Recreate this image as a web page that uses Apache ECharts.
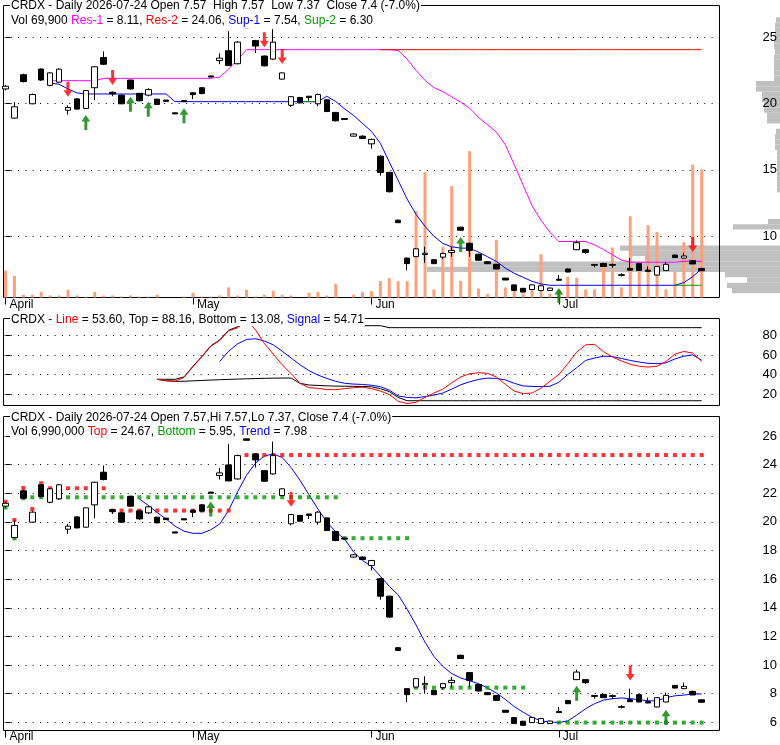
<!DOCTYPE html>
<html><head><meta charset="utf-8">
<script src="https://cdn.jsdelivr.net/npm/echarts@6.0.0/dist/echarts.min.js"></script>
<style>html,body{margin:0;padding:0;background:#fff}#c{width:780px;height:745px}</style>
</head><body><div id="c"></div>
<script>
// ---------------- data ----------------
const monthTicks = [0, 21, 41, 62];
const monthNames = ['April', 'May', 'Jun', 'Jul'];
const priceTicks1 = [10, 15, 20, 25];
const oscTicks = [20, 40, 60, 80];
const priceTicks3 = [6, 8, 10, 12, 14, 16, 18, 20, 22, 24, 26];

const opens = [21.1,18.9,22.17,19.98,22.6,21.37,21.61,19.49,20.35,19.63,
 21.19,23.47,20.85,20.63,21.77,20.77,20.63,20.33,20.26,19.3,
 20.22,20.81,21.19,22.08,23.24,23.98,23.0,25.8,24.75,23.58,
 23.35,21.84,19.87,20.45,20.55,19.98,20.28,19.33,18.87,17.54,
 17.54,16.96,16.03,14.81,11.21,8.35,8.46,8.62,8.23,8.42,
 8.77,10.68,9.47,8.64,8.07,7.88,6.84,6.33,6.07,5.98,
 5.91,5.91,6.76,7.53,8.98,8.98,7.87,7.95,7.86,7.09,
 7.58,7.93,7.44,7.07,7.42,8.58,8.35,8.16,7.57];
const closes = [21.3,19.75,21.65,20.68,21.77,22.31,22.59,19.70,19.58,20.98,
 22.77,22.96,20.73,19.98,21.1,20.21,21.05,19.93,20.16,19.22,
 20.14,20.67,20.75,22.0,23.42,22.86,24.63,25.7,24.33,22.84,
 24.63,22.31,20.52,20.05,20.45,20.68,19.4,18.7,18.8,17.7,
 17.37,17.3,14.81,13.35,11.02,7.93,9.05,8.72,7.93,8.70,
 8.93,10.45,8.93,8.19,7.93,7.53,6.70,5.91,5.79,6.33,
 6.26,6.09,6.68,7.30,9.51,8.77,7.81,7.72,7.81,7.05,
 7.44,7.42,7.35,7.72,7.88,8.39,8.51,7.91,7.40];
const lows = [21.0,18.85,21.6,19.95,21.7,21.3,21.55,19.17,19.55,19.6,
 20.26,22.9,20.55,19.95,21.05,20.15,20.55,19.9,20.16,19.22,
 20.14,20.33,20.7,22.0,22.96,22.85,22.95,25.7,23.8,22.8,
 23.3,21.8,19.75,20.0,20.2,19.8,19.35,18.65,18.8,17.5,
 17.35,16.6,14.56,13.3,11.0,7.42,8.44,8.0,7.9,8.28,
 8.46,10.42,8.46,8.15,7.9,7.5,6.68,5.88,5.76,5.95,
 5.88,5.89,6.66,7.28,8.95,8.68,7.65,7.7,7.62,6.97,
 7.42,7.4,7.33,7.05,7.4,8.37,8.33,7.9,7.37];
const highs = [21.4,20.1,22.25,20.75,22.65,22.35,22.65,19.86,20.4,21.0,
 22.8,23.93,20.9,20.7,21.8,20.8,21.15,20.35,20.26,19.3,
 20.22,20.85,21.25,22.1,23.77,25.45,24.7,25.8,24.8,23.62,
 25.61,22.35,20.55,20.5,20.55,20.75,20.3,19.35,18.87,17.75,
 17.6,17.35,16.1,14.85,11.25,8.4,9.1,9.21,8.28,8.75,
 9.17,10.72,9.5,8.68,8.12,7.9,6.86,6.36,6.1,6.36,
 6.3,6.12,7.07,7.55,9.68,9.0,7.9,7.98,7.95,7.2,
 8.35,7.95,7.72,7.75,8.07,8.6,8.77,8.22,7.57];
// volume, thousands of shares
const volumes = [14.6,11.8,1.5,1.5,3.1,1.1,1.1,4.2,1.1,0.4,
 3.1,1.1,1.1,0.5,1.1,0.5,0.5,1.5,0,0,
 0.5,2.6,0.5,0.5,1.1,5.5,1.1,4.2,0.5,1.5,
 3.7,1.5,1.1,0,2.6,3.1,1.1,7.5,0,1.5,
 3.1,3.5,9.0,10.6,8.9,8.9,47.3,68.4,4.4,27.7,
 60.8,9.1,79.9,4.9,1.8,31.3,5.5,4.2,2.2,4.4,
 23.6,2.2,4.2,11.3,10.8,4.4,4.4,17.6,27.3,5.5,
 44.4,14.0,39.5,35.7,4.4,14.0,30.2,72.5,69.9];

const res1 = [null,null,null,null,null,
 21.72,21.72,21.72,21.72,21.72,21.72,
 21.9,21.9,21.9,21.9,21.9,21.9,21.9,21.9,21.9,21.9,21.9,21.9,
 21.9,22.0,22.6,23.3,
 24.06,24.06,24.06,24.06,24.06,24.06,24.06,24.06,24.06,24.06,24.06,24.06,24.06,24.06,24.06,24.06,24.06,
 24.0,23.35,22.5,21.75,21.2,20.9,20.5,20.1,19.65,18.95,18.4,17.85,16.9,15.4,13.85,12.3,11.2,10.3,
 9.6,9.6,9.6,9.6,
 9.35,9.0,8.6,8.2,
 8.04,8.04,8.04,8.04,8.04,8.04,
 8.11,8.11,8.11];
const res2 = [null,null,null,null,null,null,null,null,null,null,
 null,null,null,null,null,null,null,null,null,null,
 null,null,null,null,null,null,null,null,null,null,
 null,null,null,null,null,null,null,null,null,null,
 null,null,
 24.06,24.06,24.06,24.06,24.06,24.06,24.06,24.06,24.06,24.06,
 24.06,24.06,24.06,24.06,24.06,24.06,24.06,24.06,24.06,24.06,
 24.06,24.06,24.06,24.06,24.06,24.06,24.06,24.06,24.06,24.06,
 24.06,24.06,24.06,24.06,24.06,24.06,24.06];
const sup1 = [null,null,null,null,null,
 21.55,21.45,21.1,20.8,
 20.72,20.72,20.72,20.72,20.72,20.72,20.72,20.72,20.72,20.72,
 20.14,20.14,20.14,20.14,20.14,20.14,20.14,20.14,20.14,20.14,20.14,20.14,20.14,20.14,20.14,20.14,20.14,
 20.55,20.15,19.6,19.1,18.5,17.9,17.0,15.6,14.2,12.8,11.65,10.75,10.0,9.45,9.2,9.1,9.1,8.8,8.45,8.1,7.6,7.2,6.9,6.6,6.4,
 6.3,6.3,6.3,6.3,6.3,6.3,6.3,6.3,6.3,6.3,6.3,6.3,6.3,6.3,6.3,
 6.5,6.95,7.54];
const sup2 = [null,null,null,null,null,null,null,null,null,null,
 null,null,null,null,null,null,null,null,null,null,
 null,null,null,null,null,null,null,null,null,null,
 null,null,null,
 20.14,20.14,20.14,
 null,null,null,null,null,null,null,null,null,null,
 null,null,null,null,null,null,null,null,null,null,
 null,null,null,null,null,null,null,null,null,null,
 null,null,null,null,null,null,null,null,null,
 6.3,6.3,6.3,6.3];

const oscLine = [null,null,null,null,null,null,null,null,null,null,null,null,null,null,null,null,null,
 35.1,34.0,33.2,37,48,58,69,75,85,88,
 96,86,72,61,50,41,31,26.5,25.8,24.5,
 24.5,25.5,26.5,27,25.5,23,19.5,12.5,10.2,11.5,
 16.5,21,25,31.5,37.5,40.8,41.9,41.2,37.5,30,
 23,20.4,21,26,33,40,51,63,70.5,71,
 63.5,58,54,50.5,48.5,47.7,48.5,53.5,61,63.7,
 62,53.6];
const oscSignal = [null,null,null,null,null,null,null,null,null,null,null,null,
 null,null,null,null,null,null,null,null,null,null,null,null,
 53.5,64,71.5,76,76.8,74.5,70.5,64,57,50,
 44,39.5,36,33,31,30.2,29.8,29,27.5,24,
 18,16.5,16,17.3,18.8,21,25,29.5,32.5,35,
 36.3,36,34.5,31,28.3,27.8,27.6,28,32,40,
 47,54.5,57,58.8,58.5,56.5,54.5,52.8,51.5,51.1,
 52,56,58.8,60.2,54.7];
const oscTop = [null,null,null,null,null,null,null,null,null,null,null,null,null,null,null,null,null,
 35.1,35.1,35.1,37.5,48.5,58.5,69.5,75.5,85.5,89,
 93,93,93,93,93,93,93,93,93,93,93,93,93,
 90.2,90.2,90.2,
 88.16,88.16,88.16,88.16,88.16,88.16,88.16,88.16,88.16,88.16,88.16,88.16,
 88.16,88.16,88.16,88.16,88.16,88.16,88.16,88.16,88.16,88.16,88.16,88.16,
 88.16,88.16,88.16,88.16,88.16,88.16,88.16,88.16,88.16,88.16,88.16,88.16];
const oscBottom = [null,null,null,null,null,null,null,null,null,null,null,null,null,null,null,null,null,
 35.1,33.5,33.0,33.1,33.5,33.9,34.3,34.7,35.0,35.3,35.6,35.9,36.1,36.3,36.4,36.4,
 31,29.2,28.8,28.4,28.1,28,27.9,27.7,27.4,25.5,22.5,16.5,
 13.08,13.08,13.08,13.08,13.08,13.08,13.08,13.08,13.08,13.08,13.08,13.08,
 13.08,13.08,13.08,13.08,13.08,13.08,13.08,13.08,13.08,13.08,13.08,13.08,
 13.08,13.08,13.08,13.08,13.08,13.08,13.08,13.08,13.08,13.08];

const trend = [null,null,null,null,null,null,null,null,null,null,null,null,null,null,null,
 21.6,21.15,20.65,20.2,19.7,19.35,19.2,19.2,19.45,19.85,
 20.8,22.1,23.25,24.1,24.6,24.75,24.5,23.8,22.9,21.9,
 20.9,20.0,19.3,18.8,17.9,17.3,16.9,16.2,15.5,14.9,
 13.9,12.8,11.6,10.6,9.9,9.4,9.1,8.9,8.7,8.4,
 8.05,7.6,7.1,6.7,6.35,6.1,6.02,5.98,6.1,6.5,
 6.95,7.3,7.55,7.65,7.7,7.65,7.58,7.5,7.5,7.72,
 7.85,7.9,7.98,7.98];
const topDots = [21.4,20.13,22.37,20.9,22.7,
 22.35,22.35,22.35,22.35,22.35,22.35,22.35,
 20.79,20.79,20.79,20.79,20.79,20.79,20.79,20.79,20.79,20.79,20.79,20.79,20.79,20.79,
 null,
 24.67,24.67,24.67,24.67,24.67,24.67,24.67,24.67,24.67,24.67,24.67,24.67,24.67,
 24.67,24.67,24.67,24.67,24.67,24.67,24.67,24.67,24.67,24.67,24.67,24.67,24.67,
 24.67,24.67,24.67,24.67,24.67,24.67,24.67,24.67,24.67,24.67,24.67,24.67,24.67,
 24.67,24.67,24.67,24.67,24.67,24.67,24.67,24.67,24.67,24.67,24.67,24.67,24.67];
const bottomDots = [21.0,18.85,21.65,
 21.72,21.72,21.72,21.72,21.72,21.72,21.72,21.72,21.72,21.72,21.72,21.72,
 21.72,21.72,21.72,21.72,21.72,21.72,21.72,21.72,21.72,21.72,21.72,21.72,
 21.72,21.72,21.72,21.72,21.72,21.72,21.72,21.72,21.72,21.72,21.72,
 18.86,18.86,18.86,18.86,18.86,18.86,18.86,18.86,
 8.42,8.42,8.42,8.42,8.42,8.42,8.42,8.42,8.42,8.42,8.42,8.42,8.42,
 null,null,null,
 5.98,5.98,5.98,5.98,5.98,5.98,5.98,5.98,5.98,5.98,5.98,5.98,5.98,5.98,5.98,5.98,5.98];

const arrowsUp1 = [[9, 19.14], [14, 20.52], [16, 20.14], [20, 19.64], [51, 9.94], [62, 6.1]];
const arrowsDown1 = [[7, 20.52], [12, 21.4], [29, 24.24], [31, 22.98], [77, 8.81]];
const arrowsUp3 = [[23, 21.42], [64, 8.55], [74, 6.88]];
const arrowsDown3 = [[32, 21.05], [70, 8.92]];

// volume-by-price profile (bins of 0.4 starting at 5.7)
const profileStart = 5.7, profileStep = 0.4;
const profileVolume = [48,53,33,55,353,310,135,150,160,0,
 0,0,47,12,0,0,0,0,0,3,
 3,3,3,3,3,3,3,5,5,5,
 4,0,13,13,16,16,18,18,24,24,
 6,6,6,6,6,5,6,6,5,5,
 5,4];

// ---------------- chart ----------------
const FONT = 'Liberation Sans, Arial, Helvetica, sans-serif';
const N = opens.length;
const X_MIN = -0.224, X_MAX = 80.0;
const pairs = arr => arr.map((v, i) => [i, v]);
const pts = arr => arr.map((v, i) => [i, v]).filter(p => p[1] != null);
const ohlc = opens.map((o, i) => [i, o, closes[i], lows[i], highs[i]]);
const profileData = profileVolume.map((v, k) => [v, profileStart + k * profileStep, profileStart + (k + 1) * profileStep]);

const UP = 'path://M4.5,0 L9,6.5 L6,6.5 L6,15 L3,15 L3,6.5 L0,6.5 Z';
const DOWN = 'path://M3,0 L6,0 L6,8.5 L9,8.5 L4.5,15 L0,8.5 L3,8.5 Z';

const dotted = { color: '#000', width: 1, type: [1, 6.3] };

function xAx(gridIndex, labels, margin) {
  return {
    type: 'value', gridIndex, min: X_MIN, max: X_MAX,
    axisLine: { show: false, onZero: false },
    axisTick: { show: labels, customValues: monthTicks, length: 7, lineStyle: { color: '#000', width: 1 } },
    axisLabel: { show: labels, customValues: monthTicks, formatter: v => monthNames[monthTicks.indexOf(v)],
      align: 'left', verticalAlign: 'top', padding: [0, 0, 0, 4], margin: margin, color: '#000', fontFamily: FONT, fontSize: 12 },
    splitLine: { show: false }
  };
}
function yAx(gridIndex, min, max, ticks) {
  return {
    type: 'value', gridIndex, position: 'right', min, max,
    axisLine: { show: false },
    axisTick: { show: true, customValues: ticks, length: 5, lineStyle: { color: '#000', width: 1 } },
    axisLabel: { show: true, customValues: ticks, align: 'right', margin: 57.5, color: '#000', fontFamily: FONT, fontSize: 13 },
    splitLine: { show: true, lineStyle: dotted }
  };
}
function line(data, color, xi, yi, z) {
  return { type: 'line', xAxisIndex: xi, yAxisIndex: yi, data: pairs(data), symbol: 'none', showSymbol: false,
    lineStyle: { color, width: 1 }, itemStyle: { color }, z, silent: true, connectNulls: false };
}
function candles(xi, yi) {
  return { type: 'candlestick', xAxisIndex: xi, yAxisIndex: yi, data: ohlc, encode: { x: 0, y: [1, 2, 3, 4] },
    barWidth: 6, z: 6, silent: true,
    itemStyle: { color: '#fff', color0: '#000', borderColor: '#000', borderColor0: '#000', borderColorDoji: '#000', borderWidth: 1 } };
}
function arrows(data, up, color, xi, yi) {
  return { type: 'scatter', xAxisIndex: xi, yAxisIndex: yi, data, symbol: up ? UP : DOWN, symbolSize: [9, 15],
    symbolOffset: [0, up ? '50%' : '-50%'], itemStyle: { color }, z: 8, silent: true };
}
function dots(data, color) {
  return { type: 'scatter', xAxisIndex: 2, yAxisIndex: 3, data: pts(data), symbol: 'rect', symbolSize: 4,
    itemStyle: { color }, z: 4, silent: true };
}

const rs = c => ({ color: c, fontSize: 12, fontFamily: FONT, fontWeight: 'normal', lineHeight: 12 });
const rich = { k: rs('#000'), m: rs('#FF00FF'), r: rs('#FF0000'), b: rs('#0000FF'), g: rs('#009900') };
function header(text, top, padBottom) {
  return { left: 10, top, padding: [0, 1, padBottom || 0, 1], backgroundColor: '#fff', text,
    textStyle: { fontFamily: FONT, fontSize: 12, fontWeight: 'normal', color: '#000', lineHeight: 12, rich }, z: 20 };
}

const option = {
  animation: false,
  backgroundColor: '#fff',
  textStyle: { fontFamily: FONT },
  title: [
    header('{k|CRDX - Daily 2026-07-24 Open 7.57  High 7.57  Low 7.37  Close 7.4 (-7.0%)}', 0),
    header('{k|Vol 69,900 }{m|Res-1}{k| = 8.11, }{r|Res-2}{k| = 24.06, }{b|Sup-1}{k| = 7.54, }{g|Sup-2}{k| = 6.30}', 14.5, 2),
    header('{k|CRDX - }{r|Line}{k| = 53.60, Top = 88.16, Bottom = 13.08, }{b|Signal}{k| = 54.71}', 314),
    header('{k|CRDX - Daily 2026-07-24 Open 7.57,Hi 7.57,Lo 7.37, Close 7.4 (-7.0%)}', 411.8),
    header('{k|Vol 6,990,000 }{r|Top}{k| = 24.67, }{g|Bottom}{k| = 5.95, }{b|Trend}{k| = 7.98}', 425.8)
  ],
  grid: [
    { left: 3.5, top: 5.5, width: 716, height: 292, show: true, borderColor: '#000', borderWidth: 1, backgroundColor: 'transparent' },
    { left: 3.5, top: 318.5, width: 716, height: 87, show: true, borderColor: '#000', borderWidth: 1, backgroundColor: 'transparent' },
    { left: 3.5, top: 416.5, width: 716, height: 314, show: true, borderColor: '#000', borderWidth: 1, backgroundColor: 'transparent' },
    { left: 0, top: 5.5, width: 780, height: 292, show: false }
  ],
  xAxis: [
    xAx(0, true, 1),
    xAx(1, false, 1),
    xAx(2, true, 0),
    { type: 'value', gridIndex: 3, min: 0, max: 780, inverse: true, show: false }
  ],
  yAxis: [
    yAx(0, 5.379, 27.389, priceTicks1),
    { type: 'value', gridIndex: 0, min: 0, max: 159.4, show: false, position: 'left' },
    yAx(1, 8.18, 97.57, oscTicks),
    yAx(2, 5.427, 27.362, priceTicks3),
    { type: 'value', gridIndex: 3, min: 5.379, max: 27.389, show: false }
  ],
  series: [
    { type: 'custom', xAxisIndex: 3, yAxisIndex: 4, data: profileData, encode: { x: 0, y: [1, 2] }, z: -1, silent: true,
      renderItem: (params, api) => {
        const w = api.value(0);
        if (!w) return null;
        const a = api.coord([0, api.value(2)]);
        const b = api.coord([w, api.value(1)]);
        return { type: 'rect', shape: { x: Math.min(a[0], b[0]), y: a[1], width: Math.abs(a[0] - b[0]), height: b[1] - a[1] },
          style: { fill: '#C0C0C0' } };
      } },
    { type: 'bar', xAxisIndex: 0, yAxisIndex: 1, data: pairs(volumes), barWidth: 3, itemStyle: { color: '#FFA07A' }, z: 2, silent: true },
    line(res1, '#FF00FF', 0, 0, 3),
    line(res2, '#FF0000', 0, 0, 3),
    line(sup1, '#0000FF', 0, 0, 3),
    line(sup2, '#009900', 0, 0, 3),
    candles(0, 0),
    arrows(arrowsUp1, true, '#008000', 0, 0),
    arrows(arrowsDown1, false, '#FF0000', 0, 0),

    line(oscTop, '#000', 1, 2, 3),
    line(oscBottom, '#000', 1, 2, 3),
    line(oscSignal, '#0000FF', 1, 2, 3),
    line(oscLine, '#FF0000', 1, 2, 3),

    line(trend, '#0000FF', 2, 3, 3),
    dots(topDots, '#FF0000'),
    dots(bottomDots, '#009900'),
    candles(2, 3),
    arrows(arrowsUp3, true, '#008000', 2, 3),
    arrows(arrowsDown3, false, '#FF0000', 2, 3)
  ]
};

const lens = [opens, closes, lows, highs, volumes, res1, res2, sup1, sup2, oscLine, oscSignal, oscTop, oscBottom, trend, topDots, bottomDots].map(a => a.length);
if (lens.some(l => l !== 79)) {
  option.graphic = [{ type: 'text', left: 200, top: 200, style: { text: 'LEN ' + lens.join(','), fill: 'red', fontSize: 20 }, z: 100 }];
}

const chart = echarts.init(document.getElementById('c'));
chart.setOption(option);
</script></body></html>
